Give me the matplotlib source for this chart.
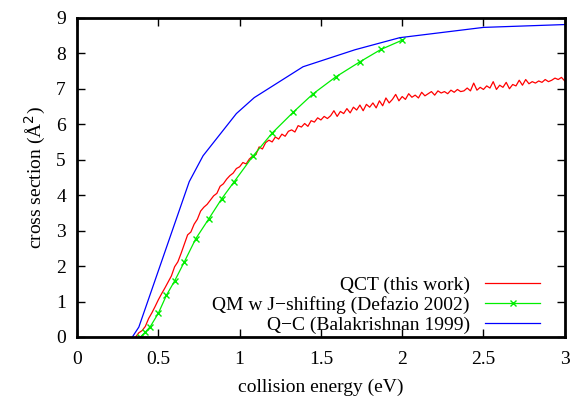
import numpy as np
import matplotlib
matplotlib.use("Agg")
import matplotlib.pyplot as plt

# QCT (this work): cross section sampled every 0.02 eV from 0.36 eV up to 3.0 eV
qct_sigma = [
    0.00, 0.12, 0.18, 0.30, 0.52, 0.68, 0.86, 1.05, 1.22, 1.38,
    1.55, 1.72, 1.98, 2.12, 2.36, 2.62, 2.88, 2.96, 3.18, 3.32,
    3.55, 3.66, 3.74, 3.86, 3.98, 4.05, 4.25, 4.32, 4.45, 4.55,
    4.62, 4.75, 4.80, 4.92, 4.88, 5.02, 5.10, 5.14, 5.36, 5.30,
    5.48, 5.55, 5.50, 5.64, 5.58, 5.72, 5.66, 5.80, 5.84, 5.78,
    5.96, 5.92, 6.02, 5.94, 6.10, 6.06, 6.18, 6.12, 6.22, 6.16,
    6.24, 6.38, 6.22, 6.36, 6.30, 6.44, 6.32, 6.48, 6.40, 6.54,
    6.38, 6.56, 6.48, 6.60, 6.46, 6.66, 6.52, 6.74, 6.60, 6.70,
    6.84, 6.66, 6.78, 6.70, 6.86, 6.76, 6.82, 6.74, 6.90, 6.80,
    6.86, 6.92, 6.82, 6.94, 6.88, 6.92, 6.86, 6.96, 6.90, 6.98,
    6.92, 6.94, 7.02, 6.94, 7.16, 6.96, 7.04, 6.98, 7.08, 7.02,
    7.20, 6.98, 7.10, 7.04, 7.18, 7.00, 7.12, 7.08, 7.24, 7.10,
    7.26, 7.14, 7.20, 7.16, 7.22, 7.18, 7.26, 7.20, 7.24, 7.30,
    7.26, 7.32, 7.22,
]
qct_energy = np.linspace(0.36, 3.0, len(qct_sigma))

# QM with J-shifting (Defazio 2002)
qm_energy = [0.39, 0.42, 0.45, 0.50, 0.55, 0.60, 0.66, 0.73, 0.81, 0.89,
             0.965, 1.08, 1.20, 1.33, 1.45, 1.59, 1.74, 1.87, 2.00]
qm_sigma = [0.0, 0.14, 0.29, 0.67, 1.18, 1.58, 2.12, 2.77, 3.33, 3.90,
            4.37, 5.09, 5.75, 6.34, 6.85, 7.33, 7.76, 8.11, 8.37]

# Q-C (Balakrishnan 1999)
qc_energy = [0.34, 0.38, 0.69, 0.775, 0.98, 1.09, 1.39, 1.71, 1.985, 2.5, 3.0]
qc_sigma = [0.0, 0.28, 4.38, 5.11, 6.30, 6.75, 7.62, 8.10, 8.44, 8.73, 8.81]

plt.rcParams['font.family'] = ['Liberation Serif', 'DejaVu Serif']
plt.rcParams['font.size'] = 14

fig = plt.figure(figsize=(5.71, 3.96), dpi=100)
ax = fig.add_axes([0.135, 0.149, 0.854, 0.806])

ax.plot(qct_energy, qct_sigma, color='#ff0000', lw=0.9, label='QCT (this work)')
ax.plot(qm_energy, qm_sigma, color='#00ee00', lw=0.9, marker='x', ms=5, mew=1.0,
        label='QM w J\u2212shifting (Defazio 2002)')
ax.plot(qc_energy, qc_sigma, color='#0000ff', lw=0.9, label='Q\u2212C (Balakrishnan 1999)')

ax.set_xlim(0, 3)
ax.set_ylim(0, 9)
ax.set_xticks([0, 0.5, 1, 1.5, 2, 2.5, 3])
ax.set_xticklabels(['0', '0.5', '1', '1.5', '2', '2.5', '3'])
ax.set_yticks(range(10))
ax.tick_params(axis='x', direction='in', length=6, width=1, top=True, pad=10)
ax.tick_params(axis='y', direction='in', length=6, width=1, right=True, pad=8)
for s in ax.spines.values():
    s.set_linewidth(2)

ax.set_xlabel('collision energy (eV)', labelpad=8)
ax.set_ylabel('cross section (\u00c5$^2$)', labelpad=6)

ax.legend(loc='lower right', frameon=False, markerfirst=False, numpoints=1,
          handlelength=2.8, handletextpad=0.8, labelspacing=0.12,
          borderaxespad=0.0, borderpad=0.15,
          bbox_to_anchor=(0.955, 0.0))

fig.savefig('out.png', dpi=100)
